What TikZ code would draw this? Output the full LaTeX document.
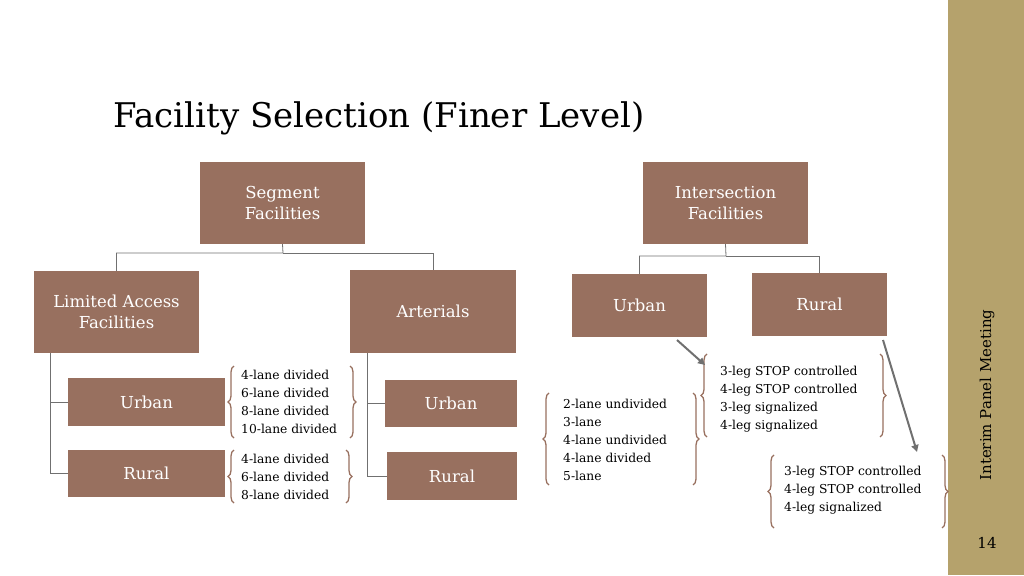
\documentclass[tikz,border=0pt]{standalone}
\usepackage{fontspec}
\setmainfont{DejaVu Serif}
\usetikzlibrary{decorations.pathreplacing,arrows.meta}
\definecolor{boxc}{HTML}{98705F}
\definecolor{tan}{HTML}{B5A26C}
\definecolor{lnc}{HTML}{707070}
\begin{document}
\begin{tikzpicture}[x=1pt,y=-1pt,
 box/.style={fill=boxc,text=white,font=\fontsize{16.5}{21}\selectfont,align=center,inner sep=0pt},
 lst/.style={font=\fontsize{12.3}{18}\selectfont,align=left,anchor=west,inner sep=0pt},
 br/.style={draw=boxc,line width=1.3pt,decorate,decoration={brace,amplitude=6pt}},
 con/.style={draw=lnc,line width=0.8pt},
 arr/.style={draw=lnc,line width=2pt,-{Triangle[length=7pt,width=7pt]}}]
\useasboundingbox (0,0) rectangle (1024,575);
\fill[tan] (948,0) rectangle (1024,575);
\node[rotate=90,font=\fontsize{15}{20}\selectfont] (side) at (987,395) {Interim Panel Meeting};
\node[font=\fontsize{15}{20}\selectfont] (pg) at (987,543) {14};
\node[anchor=base west,font=\fontsize{34}{44}\selectfont,inner sep=0pt] (title) at (113,128) {Facility Selection (Finer Level)};
% boxes
\node[box,minimum width=165,minimum height=82] (seg) at (282.5,203) {Segment\\Facilities};
\node[box,minimum width=165,minimum height=82] (int) at (725.5,203) {Intersection\\Facilities};
\node[box,minimum width=165,minimum height=82] (lim) at (116.5,312) {Limited Access\\Facilities};
\node[box,minimum width=166,minimum height=83] (art) at (433,311.5) {Arterials};
\node[box,minimum width=157,minimum height=48] (lu) at (146.5,402) {Urban};
\node[box,minimum width=157,minimum height=47] (lr) at (146.5,473.5) {Rural};
\node[box,minimum width=132,minimum height=47] (au) at (451,403.5) {Urban};
\node[box,minimum width=130,minimum height=48] (ar) at (452,476) {Rural};
\node[box,minimum width=135,minimum height=63] (iu) at (639.5,305.5) {Urban};
\node[box,minimum width=135,minimum height=63] (ir) at (819.5,304.5) {Rural};
% connectors
\draw[con] (seg.south) -- (283,253) -| (lim.north);
\draw[con] (283,253) -| (art.north);
\draw[con] (lim.south west) ++(17,0) coordinate (lv) |- (lu.west);
\draw[con] (lv) |- (lr.west);
\draw[con] (art.south west) ++(18,0) coordinate (av) |- (au.west);
\draw[con] (av) |- (ar.west);
\draw[con] (int.south) -- (726,256) -| (iu.north);
\draw[con] (726,256) -| (ir.north);
% lists
\node[lst] (l1) at (241,402) {4-lane divided\\6-lane divided\\8-lane divided\\10-lane divided};
\node[lst] (l2) at (241,477) {4-lane divided\\6-lane divided\\8-lane divided};
\node[lst] (l3) at (563,440) {2-lane undivided\\3-lane\\4-lane undivided\\4-lane divided\\5-lane};
\node[lst] (l4) at (720,399) {3-leg STOP controlled\\4-leg STOP controlled\\3-leg signalized\\4-leg signalized};
\node[lst] (l5) at (784,490) {3-leg STOP controlled\\4-leg STOP controlled\\4-leg signalized};
% braces
\draw[br] (234,438) -- (234,366);
\draw[br] (350,366) -- (350,438);
\draw[br] (234,503) -- (234,450);
\draw[br] (346,450) -- (346,503);
\draw[br] (549,485) -- (549,393);
\draw[br] (693,393) -- (693,485);
\draw[br] (707,437) -- (707,354);
\draw[br] (880,354) -- (880,437);
\draw[br] (774,528) -- (774,455);
\draw[br] (942,455) -- (942,528);
% arrows
\draw[arr] (677,340) -- (705,365);
\draw[arr] (883,340) -- (917,452);
\end{tikzpicture}
\end{document}
